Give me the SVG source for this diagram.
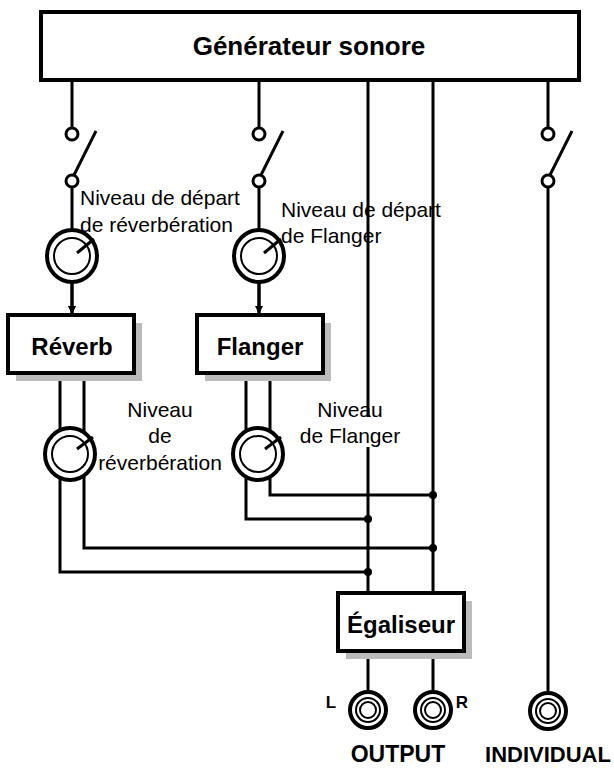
<svg xmlns="http://www.w3.org/2000/svg" width="614" height="770" viewBox="0 0 614 770">
<style>
.w{fill:none;stroke:#000;stroke-width:3}
.box{fill:#fff;stroke:#000;stroke-width:4}
.sh{fill:#bbb}
.b{font-family:"Liberation Sans",Arial,sans-serif;font-weight:bold;fill:#000}
.t{font-family:"Liberation Sans",Arial,sans-serif;font-size:21px;fill:#000}
.sw{fill:#fff;stroke:#000;stroke-width:3}
.k1{fill:#fff;stroke:#000;stroke-width:4}
.k2{fill:none;stroke:#000;stroke-width:2}
.dot{fill:#000}
</style>
<defs>
<marker id="ar" markerWidth="8" markerHeight="10" refX="7" refY="5" orient="auto" markerUnits="userSpaceOnUse">
<path d="M0,1 L8,5 L0,9 Z" fill="#000"/>
</marker>
</defs>
<g id="connectors">
<path class="w" d="M72,80V128 M72,187V230 M72,282V313" marker-end="url(#ar)"/>
<path class="w" d="M259,80V128 M259,187V230 M259,282V313"/>
<path class="w" d="M259,282V313" marker-end="url(#ar)"/>
<path class="w" d="M72,282V313" marker-end="url(#ar)"/>
<line class="w" x1="74" y1="175" x2="96" y2="131"/>
<line class="w" x1="261" y1="175" x2="283" y2="131"/>
<line class="w" x1="550" y1="175" x2="572" y2="131"/>
<path class="w" d="M548,80V128 M548,187V691"/>
<path class="w" d="M368,80V417 M368,447V593"/>
<path class="w" d="M433,80V593"/>
<path class="w" d="M60,373V572H368"/>
<path class="w" d="M84,373V548H433"/>
<path class="w" d="M246,373V519H368"/>
<path class="w" d="M270,373V495H433"/>
<path class="w" d="M368,651V690 M433,651V690"/>
<circle class="dot" cx="368" cy="572" r="4"/>
<circle class="dot" cx="433" cy="548" r="4"/>
<circle class="dot" cx="368" cy="519" r="4"/>
<circle class="dot" cx="433" cy="495" r="4"/>
</g>
<g id="generateur">
<rect class="box" x="41" y="12" width="538" height="68"/>
<text class="b" x="309" y="55" font-size="26" text-anchor="middle">Générateur sonore</text>
</g>
<g id="switch-reverb"><circle class="sw" cx="72" cy="134" r="6"/><circle class="sw" cx="72" cy="181" r="6"/></g>
<g id="switch-flanger"><circle class="sw" cx="259" cy="134" r="6"/><circle class="sw" cx="259" cy="181" r="6"/></g>
<g id="switch-individual"><circle class="sw" cx="548" cy="134" r="6"/><circle class="sw" cx="548" cy="181" r="6"/></g>
<g id="knob-send-reverb">
<ellipse class="k1" cx="72" cy="256" rx="25" ry="26"/><circle class="k2" cx="72" cy="256" r="18"/>
<line class="w" x1="77" y1="253" x2="94" y2="239"/>
<text class="t" x="80" y="205">Niveau de départ</text>
<text class="t" x="80" y="232">de réverbération</text>
</g>
<g id="knob-send-flanger">
<ellipse class="k1" cx="259" cy="256" rx="25" ry="26"/><circle class="k2" cx="259" cy="256" r="18"/>
<line class="w" x1="264" y1="253" x2="281" y2="239"/>
<text class="t" x="281" y="217">Niveau de départ</text>
<text class="t" x="281" y="243">de Flanger</text>
</g>
<g id="reverb">
<rect class="sh" x="16" y="323" width="126" height="58"/>
<rect class="box" x="8" y="315" width="126" height="58"/>
<text class="b" x="72" y="355" font-size="24" text-anchor="middle">Réverb</text>
</g>
<g id="flanger">
<rect class="sh" x="205" y="323" width="126" height="58"/>
<rect class="box" x="197" y="315" width="126" height="58"/>
<text class="b" x="260" y="355" font-size="24" text-anchor="middle">Flanger</text>
</g>
<g id="knob-level-reverb">
<ellipse class="k1" cx="70" cy="454" rx="25" ry="26"/><circle class="k2" cx="70" cy="454" r="18"/>
<line class="w" x1="77" y1="449" x2="93" y2="437"/>
<text class="t" x="160" y="417" text-anchor="middle">Niveau</text>
<text class="t" x="160" y="443" text-anchor="middle">de</text>
<text class="t" x="160" y="470" text-anchor="middle">réverbération</text>
</g>
<g id="knob-level-flanger">
<ellipse class="k1" cx="258" cy="454" rx="25" ry="26"/><circle class="k2" cx="258" cy="454" r="18"/>
<line class="w" x1="265" y1="449" x2="281" y2="437"/>
<text class="t" x="350" y="417" text-anchor="middle">Niveau</text>
<text class="t" x="350" y="443" text-anchor="middle">de Flanger</text>
</g>
<g id="egaliseur">
<rect class="sh" x="346" y="601" width="126" height="58"/>
<rect class="box" x="338" y="593" width="126" height="58"/>
<text class="b" x="401" y="633" font-size="24" text-anchor="middle">Égaliseur</text>
</g>
<g id="jack-L">
<circle class="k1" cx="368" cy="710" r="18"/><circle class="k2" cx="368" cy="710" r="12"/><circle class="k2" cx="368" cy="710" r="8"/>
<text class="b" x="331" y="708" font-size="17" text-anchor="middle">L</text>
</g>
<g id="jack-R">
<circle class="k1" cx="433" cy="710" r="18"/><circle class="k2" cx="433" cy="710" r="12"/><circle class="k2" cx="433" cy="710" r="8"/>
<text class="b" x="462" y="708" font-size="17" text-anchor="middle">R</text>
</g>
<g id="jack-individual">
<circle class="k1" cx="548" cy="711" r="18"/><circle class="k2" cx="548" cy="711" r="12"/><circle class="k2" cx="548" cy="711" r="8"/>
</g>
<text class="b" x="398" y="762" font-size="23" text-anchor="middle">OUTPUT</text>
<text class="b" x="548" y="762" font-size="22" text-anchor="middle">INDIVIDUAL</text>
</svg>
